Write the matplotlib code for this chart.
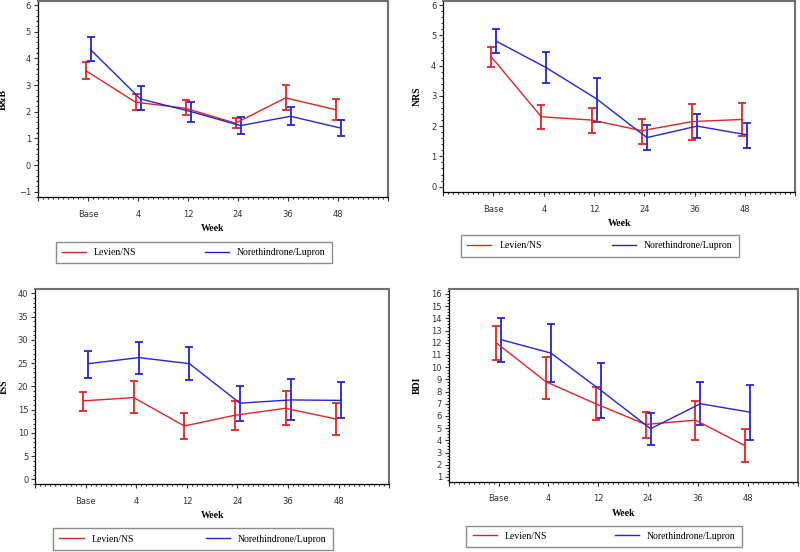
import numpy as np
import matplotlib.pyplot as plt
from matplotlib.lines import Line2D
from matplotlib.ticker import AutoMinorLocator, FixedLocator

weeks = ["Base", "4", "12", "24", "36", "48"]

# B&B
bb_red = [3.55, 2.36, 2.13, 1.57, 2.52, 2.08]
bb_red_lo = [3.24, 2.05, 1.86, 1.38, 2.05, 1.69]
bb_red_hi = [3.86, 2.67, 2.45, 1.77, 3.01, 2.46]
bb_blue = [4.33, 2.48, 2.01, 1.48, 1.83, 1.39]
bb_blue_lo = [3.89, 2.05, 1.63, 1.17, 1.51, 1.10]
bb_blue_hi = [4.81, 2.96, 2.36, 1.79, 2.17, 1.69]

# NRS
nrs_red = [4.30, 2.31, 2.20, 1.85, 2.15, 2.22]
nrs_red_lo = [3.94, 1.89, 1.78, 1.41, 1.54, 1.67]
nrs_red_hi = [4.63, 2.70, 2.61, 2.22, 2.73, 2.75]
nrs_blue = [4.81, 3.93, 2.90, 1.62, 2.00, 1.71]
nrs_blue_lo = [4.43, 3.44, 2.15, 1.21, 1.62, 1.29]
nrs_blue_hi = [5.21, 4.44, 3.58, 2.04, 2.39, 2.11]

# ISS
iss_red = [16.9, 17.6, 11.5, 13.8, 15.3, 13.0]
iss_red_lo = [14.8, 14.3, 8.6, 10.6, 11.7, 9.5]
iss_red_hi = [18.9, 21.1, 14.3, 16.8, 19.1, 16.5]
iss_blue = [24.9, 26.2, 24.9, 16.4, 17.1, 17.0]
iss_blue_lo = [21.9, 22.7, 21.4, 12.5, 12.7, 13.2]
iss_blue_hi = [27.7, 29.5, 28.5, 20.2, 21.6, 21.0]

# BDI
bdi_red = [12.0, 8.8, 7.0, 5.3, 5.65, 3.55]
bdi_red_lo = [10.55, 7.35, 5.7, 4.15, 4.05, 2.2]
bdi_red_hi = [13.4, 10.8, 8.35, 6.35, 7.25, 4.9]
bdi_blue = [12.25, 11.15, 8.1, 4.95, 7.0, 6.3]
bdi_blue_lo = [10.45, 8.75, 5.8, 3.65, 5.25, 4.05]
bdi_blue_hi = [14.0, 13.55, 10.3, 6.2, 8.75, 8.5]

RED = "#e02424"
BLUE = "#2424d8"
serif = ["Liberation Serif", "DejaVu Serif"]

fig = plt.figure(figsize=(8, 5.52), dpi=100)

panels = [
    # rect, label, data, ylim, yticks, minor count, ylabel x
    ([0.0475, 0.643, 0.4375, 0.355], "B&B",
     (bb_red, bb_red_lo, bb_red_hi, bb_blue, bb_blue_lo, bb_blue_hi),
     (-1.2, 6.15), np.arange(-1, 7, 1), 5, -0.086),
    ([0.554, 0.652, 0.44, 0.346], "NRS",
     (nrs_red, nrs_red_lo, nrs_red_hi, nrs_blue, nrs_blue_lo, nrs_blue_hi),
     (-0.18, 6.13), np.arange(0, 7, 1), 5, -0.06),
    ([0.044, 0.123, 0.4425, 0.353], "ISS",
     (iss_red, iss_red_lo, iss_red_hi, iss_blue, iss_blue_lo, iss_blue_hi),
     (-1.0, 40.9), np.arange(0, 41, 5), 5, -0.076),
    ([0.561, 0.127, 0.436, 0.35], "BDI",
     (bdi_red, bdi_red_lo, bdi_red_hi, bdi_blue, bdi_blue_lo, bdi_blue_hi),
     (0.59, 16.43), np.arange(1, 17, 1), 4, -0.077),
]

x = np.arange(1, len(weeks) + 1)

for rect, label, d, ylim, yticks, nminor, ylx in panels:
    ax = fig.add_axes(rect)
    r, rlo, rhi, b, blo, bhi = [np.array(v) for v in d]
    ax.errorbar(x - 0.05, r, yerr=[r - rlo, rhi - r], color=RED, lw=1.0,
                elinewidth=1.3, capsize=3, capthick=1.3)
    ax.errorbar(x + 0.05, b, yerr=[b - blo, bhi - b], color=BLUE, lw=1.0,
                elinewidth=1.3, capsize=3, capthick=1.3)

    ax.set_xlim(0, 7)
    ax.set_ylim(*ylim)
    ax.xaxis.set_major_locator(FixedLocator(range(0, 8)))
    ax.set_xticklabels([""] + weeks + [""])
    ax.xaxis.set_minor_locator(AutoMinorLocator(10))
    ax.set_yticks(yticks)
    ax.yaxis.set_minor_locator(AutoMinorLocator(nminor))
    ax.tick_params(which="major", direction="out", length=3, width=0.8,
                   labelsize=6, pad=2, colors="#333333")
    ax.tick_params(which="minor", direction="out", length=1.5, width=0.6)
    ax.tick_params(axis="x", which="major", pad=6)

    for s in ["top", "right"]:
        ax.spines[s].set_color("#707070")
        ax.spines[s].set_linewidth(1.5)
    for s in ["left", "bottom"]:
        ax.spines[s].set_color("black")
        ax.spines[s].set_linewidth(0.9)

    ax.set_xlabel("Week", family=serif, fontweight="bold", fontsize=7)
    ax.xaxis.set_label_coords(0.5, -0.14)
    ax.set_ylabel(label, family=serif, fontweight="bold", fontsize=7)
    ax.yaxis.set_label_coords(ylx, 0.5)

    handles = [Line2D([], [], color=RED, lw=1.0),
               Line2D([], [], color=BLUE, lw=1.0)]
    leg = ax.legend(handles, ["Levien/NS", "Norethindrone/Lupron"],
                    loc="lower left", bbox_to_anchor=(0.05, -0.338, 0.79, 0.105),
                    mode="expand", ncol=2, frameon=True, fancybox=False,
                    prop={"family": serif, "size": 7}, handlelength=2.5,
                    borderaxespad=0, borderpad=0.65, handletextpad=0.8)
    leg.get_frame().set_edgecolor("#707070")
    leg.get_frame().set_linewidth(1.0)

fig.savefig("out.png", dpi=100)
